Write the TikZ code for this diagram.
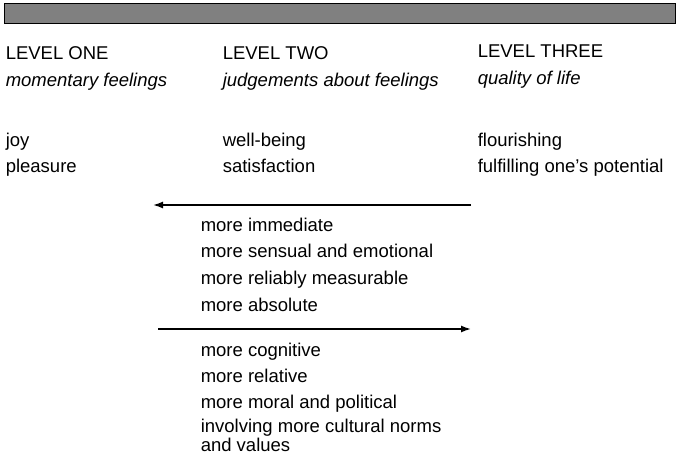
\documentclass[tikz,border=0pt]{standalone}
\usepackage{fontspec}
\setmainfont{Liberation Sans}
\usepackage{tikz}
\usetikzlibrary{positioning}
\usetikzlibrary{arrows.meta}
\tikzset{>={Latex[length=10pt,width=7pt]}}
\tikzset{
  txt/.style={anchor=base west, inner sep=0pt, font=\fontsize{18.5}{18.5}\selectfont},
  itxt/.style={txt, font=\fontsize{18.5}{18.5}\selectfont\itshape},
}

\begin{document}
\begin{tikzpicture}[x=1pt, y=-1pt, line width=1.5pt]
    \useasboundingbox (0,0) rectangle (676,455);

    % 1. Grey bar along the top
    \draw[fill=gray, line width=1.8pt] (4.5,3.5) rectangle (676,23.5);

    % 2. Column headings
    \node[txt] (lvlone) at (5,59) {LEVEL ONE};
    \node[itxt] (subone) at (5,86) {momentary feelings};
    \node[txt] (lvltwo) at (222,59) {LEVEL TWO};
    \node[itxt] (subtwo) at (222,86) {judgements about feelings};
    \node[txt] (lvlthree) at (477,57) {LEVEL THREE};
    \node[itxt] (subthree) at (477,84) {quality of life};

    % 3. Examples under each level
    \node[txt] (joy) at (5,146) {joy};
    \node[txt] (pleasure) at (5,172) {pleasure};
    \node[txt] (wellbeing) at (222,146) {well-being};
    \node[txt] (satisf) at (222,172) {satisfaction};
    \node[txt] (flourish) at (477,146) {flourishing};
    \node[txt] (potential) at (477,172) {fulfilling one’s potential};

    % 4. Leftward arrow (towards level one)
    \coordinate (lr) at (471,205);
    \coordinate (ll) at (153,205);
    \draw[->] (lr) -- (ll);

    \node[txt] (immed) at (200,231) {more immediate};
    \node[txt] (sensual) at (200,257) {more sensual and emotional};
    \node[txt] (measur) at (200,284) {more reliably measurable};
    \node[txt] (absol) at (200,311) {more absolute};

    % 5. Rightward arrow (towards level three)
    \coordinate (rl) at (158,329);
    \coordinate (rr) at (471,329);
    \draw[->] (rl) -- (rr);

    \node[txt] (cogn) at (200,356) {more cognitive};
    \node[txt] (relat) at (200,382) {more relative};
    \node[txt] (moral) at (200,408) {more moral and political};
    \node[txt, align=left, font=\fontsize{18.5}{17}\selectfont] (norms) at (200,451) {involving more cultural norms\\and values};
\end{tikzpicture}
\end{document}
